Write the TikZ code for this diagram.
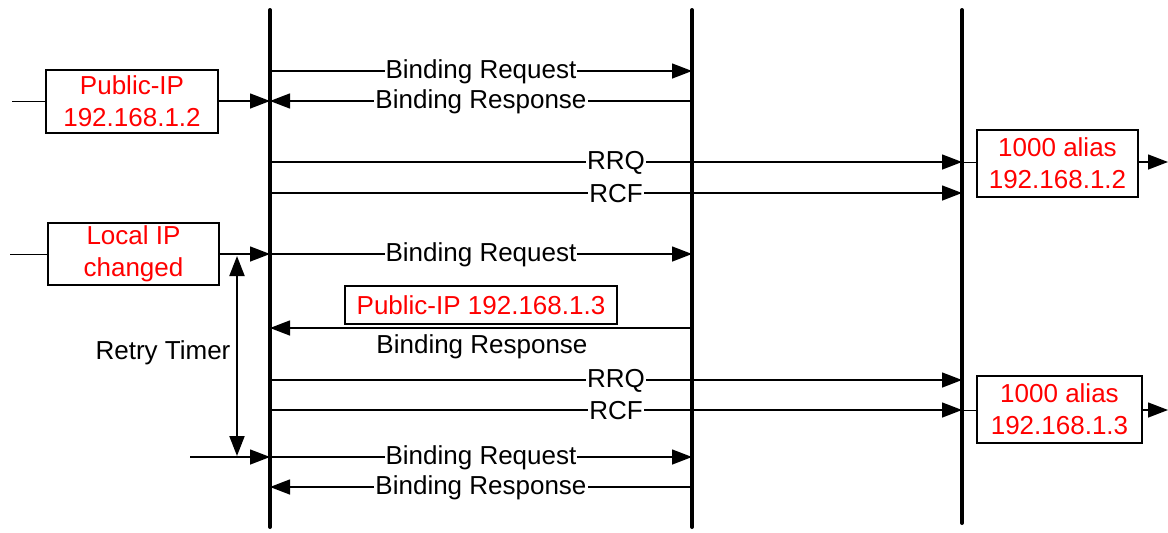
\documentclass[tikz,border=0pt]{standalone}
\usepackage{fontspec}
\setmainfont{Liberation Sans}
\usetikzlibrary{arrows.meta}
\begin{document}
\begin{tikzpicture}[x=1pt,y=-1pt,
  lifeline/.style={line width=4pt,line cap=round},
  msg/.style={line width=1.4pt,-{Triangle[length=20pt,width=15pt]}},
  thin/.style={line width=1pt},
  lbl/.style={fill=white,inner sep=1pt,text=black,font=\fontsize{26}{30}\selectfont},
  redbox/.style={draw,line width=2pt,text=red,align=center,inner sep=0pt,font=\fontsize{26}{32}\selectfont},
]
\useasboundingbox (0,0) rectangle (1168,533);
% lifelines
\coordinate (at) at (270,10); \coordinate (ab) at (270,527);
\coordinate (bt) at (692,10); \coordinate (bb) at (692,527);
\coordinate (ct) at (962,10); \coordinate (cb) at (962,523);
\draw[lifeline] (at) -- (ab);
\draw[lifeline] (bt) -- (bb);
\draw[lifeline] (ct) -- (cb);
% boxes
\node[redbox,minimum width=172pt,minimum height=63pt] (pub1) at (132,101.5) {Public-IP\\192.168.1.2};
\node[redbox,minimum width=171pt,minimum height=62pt] (loc) at (133.5,254) {Local IP\\changed};
\node[redbox,minimum width=161pt,minimum height=67pt] (al1) at (1057.5,163.5) {1000 alias\\192.168.1.2};
\node[redbox,minimum width=165pt,minimum height=67pt] (al2) at (1059.5,409.5) {1000 alias\\192.168.1.3};
\coordinate (w1) at (12,101.5);
\coordinate (w2) at (10,254);
\coordinate (e1) at (1168,162);
\coordinate (e2) at (1168,410);
\coordinate (s3) at (190,457);
% side connectors
\draw[thin] (w1) -- (pub1.west);
\draw[msg] (pub1.east |- 0,101) -- (at |- 0,101);
\draw[thin] (w2) -- (loc.west);
\draw[msg] (loc.east) -- (at |- 0,254);
\draw[msg] (s3) -- (at |- 0,457);
\draw[thin] (ct |- 0,162) -- (al1.west |- 0,162);
\draw[msg] (al1.east |- 0,162) -- (e1);
\draw[thin] (ct |- 0,410) -- (al2.west |- 0,410);
\draw[msg] (al2.east |- 0,410) -- (e2);
% messages
\draw[msg] (at |- 0,71) -- node[lbl,yshift=-1pt]{Binding Request} (bt |- 0,71);
\draw[msg] (bt |- 0,101) -- node[lbl,yshift=-1pt]{Binding Response} (at |- 0,101);
\draw[msg] (at |- 0,162) -- node[lbl,yshift=-1pt]{RRQ} (ct |- 0,162);
\draw[msg] (at |- 0,193) -- node[lbl,yshift=-1pt]{RCF} (ct |- 0,193);
\draw[msg] (at |- 0,254) -- node[lbl,yshift=-1pt]{Binding Request} (bt |- 0,254);
\draw[msg] (bt |- 0,328) -- (at |- 0,328);
\node[redbox,minimum width=272pt,minimum height=38pt,fill=white] (pub2) at (481,305) {Public-IP 192.168.1.3};
\node[lbl] (br2) at (482,347) {Binding Response};
\draw[msg] (at |- 0,380) -- node[lbl,yshift=-1pt]{RRQ} (ct |- 0,380);
\draw[msg] (at |- 0,410) -- node[lbl,yshift=-1pt]{RCF} (ct |- 0,410);
\draw[msg] (at |- 0,457) -- node[lbl,yshift=-1pt]{Binding Request} (bt |- 0,457);
\draw[msg] (bt |- 0,487) -- node[lbl,yshift=-1pt]{Binding Response} (at |- 0,487);
% retry timer
\coordinate (rt) at (237,256);
\coordinate (rb) at (237,456);
\draw[line width=2pt,{Triangle[length=20pt,width=15pt]}-{Triangle[length=20pt,width=15pt]}] (rt) -- (rb);
\node[lbl] (rtl) at (163,353) {Retry Timer};
\end{tikzpicture}
\end{document}
